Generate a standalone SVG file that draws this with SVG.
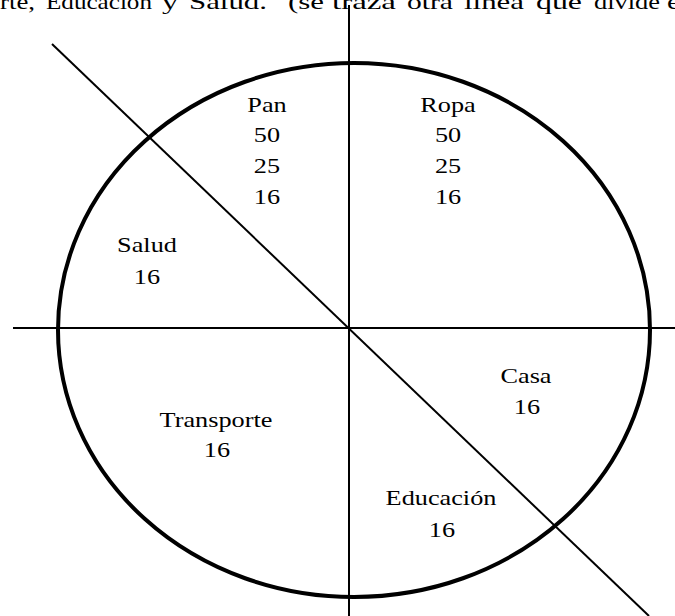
<svg xmlns="http://www.w3.org/2000/svg" width="675" height="616" viewBox="0 0 675 616">
<style>
.t{font-family:"Liberation Serif","Times New Roman",serif;font-size:21px;fill:#000;text-anchor:middle}
.top{font-family:"Liberation Serif","Times New Roman",serif;font-size:22px;fill:#000}
.ln{stroke:#000;stroke-width:2;fill:none}
.el{stroke:#000;stroke-width:4;fill:none}
</style>
<rect width="675" height="616" fill="#fff"/>
<g id="heading">
<text class="top" x="0" y="9" textLength="35" lengthAdjust="spacingAndGlyphs">rte,</text>
<text class="top" x="46" y="9" textLength="106" lengthAdjust="spacingAndGlyphs">Educación</text>
<text class="top" x="162" y="9" textLength="16" lengthAdjust="spacingAndGlyphs">y</text>
<text class="top" x="189" y="9" textLength="78" lengthAdjust="spacingAndGlyphs">Salud.</text>
<text class="top" x="288" y="9" textLength="36" lengthAdjust="spacingAndGlyphs">(se</text>
<text class="top" x="332" y="9" textLength="64" lengthAdjust="spacingAndGlyphs">traza</text>
<text class="top" x="407" y="9" textLength="46" lengthAdjust="spacingAndGlyphs">otra</text>
<text class="top" x="464" y="9" textLength="60" lengthAdjust="spacingAndGlyphs">línea</text>
<text class="top" x="536" y="9" textLength="46" lengthAdjust="spacingAndGlyphs">que</text>
<text class="top" x="594" y="9" textLength="66" lengthAdjust="spacingAndGlyphs">divide</text>
<text class="top" x="667" y="9" textLength="13" lengthAdjust="spacingAndGlyphs">e</text>
</g>
<g id="connectors">
<ellipse class="el" cx="354" cy="330" rx="296" ry="267"/>
<line class="ln" x1="349" y1="5" x2="349" y2="616"/>
<line class="ln" x1="13" y1="328" x2="675" y2="328"/>
<line class="ln" x1="52" y1="44" x2="649" y2="616"/>
</g>
<g id="pan" transform="scale(1.25 1)">
<text class="t" x="213.6" y="112">Pan</text>
<text class="t" x="213.6" y="142">50</text>
<text class="t" x="213.6" y="173">25</text>
<text class="t" x="213.6" y="204">16</text>
</g>
<g id="ropa" transform="scale(1.25 1)">
<text class="t" x="358.4" y="112">Ropa</text>
<text class="t" x="358.4" y="142">50</text>
<text class="t" x="358.4" y="173">25</text>
<text class="t" x="358.4" y="204">16</text>
</g>
<g id="salud" transform="scale(1.25 1)">
<text class="t" x="117.6" y="252">Salud</text>
<text class="t" x="117.6" y="284">16</text>
</g>
<g id="transporte" transform="scale(1.25 1)">
<text class="t" x="172.8" y="427">Transporte</text>
<text class="t" x="173.6" y="457">16</text>
</g>
<g id="casa" transform="scale(1.25 1)">
<text class="t" x="420.8" y="383">Casa</text>
<text class="t" x="421.6" y="414">16</text>
</g>
<g id="educacion" transform="scale(1.25 1)">
<text class="t" x="352.8" y="505">Educación</text>
<text class="t" x="353.6" y="537">16</text>
</g>
</svg>
